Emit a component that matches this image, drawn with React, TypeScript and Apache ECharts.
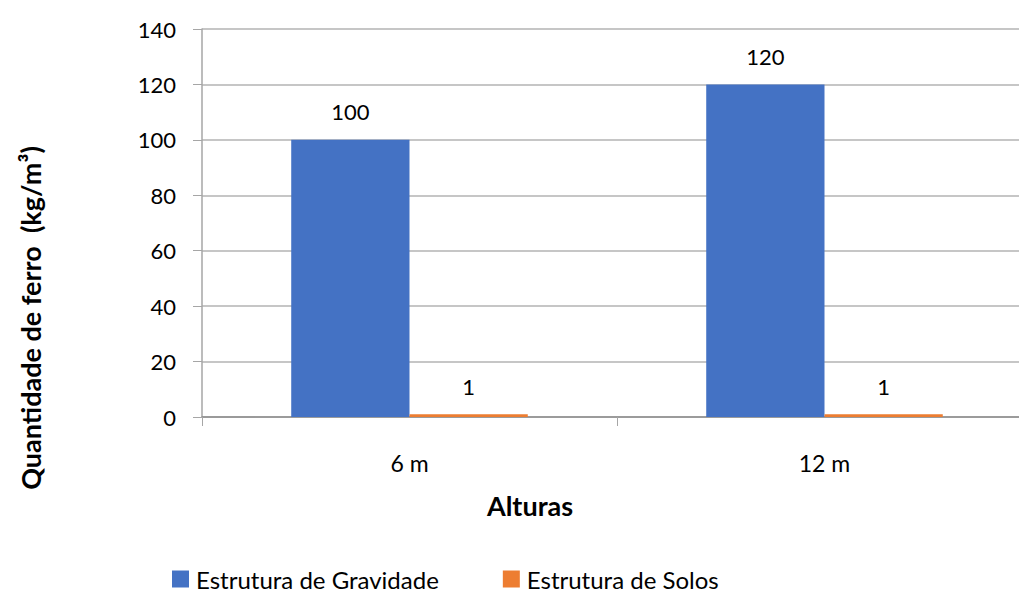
import React, { useEffect, useRef } from "react";
import * as echarts from "echarts";

const categories = ["6 m", "12 m"];
const gravidade = [100, 120];
const solos = [1, 1];
const seriesNames = ["Estrutura de Gravidade", "Estrutura de Solos"];
const yTitle = "Quantidade de ferro  (kg/m³)";
const xTitle = "Alturas";

const FONT = "Lato, 'Open Sans', sans-serif";

export default function App() {
  const ref = useRef<HTMLDivElement>(null);
  useEffect(() => {
    if (!ref.current) return;
    const chart = echarts.init(ref.current, null, { renderer: "svg" });
    const labelStyle = {
      show: true,
      position: "top" as const,
      distance: 17,
      fontSize: 22,
      color: "#000",
      fontFamily: FONT,
    };
    chart.setOption({
      animation: false,
      textStyle: { fontFamily: FONT },
      grid: { left: 202, right: 8, top: 29, bottom: 175, containLabel: false },
      legend: {
        top: 567,
        left: 172,
        padding: 0,
        itemWidth: 17,
        itemHeight: 17,
        itemGap: 64,
        icon: "rect",
        textStyle: { fontSize: 24, color: "#000", fontFamily: FONT, padding: [0, 0, 0, 2] },
        data: seriesNames,
      },
      xAxis: {
        type: "category",
        data: categories,
        axisLine: { lineStyle: { color: "#8c8c8c", width: 1.5 } },
        axisTick: { show: true, length: 9, lineStyle: { color: "#a6a6a6" } },
        axisLabel: { fontSize: 23, color: "#000", margin: 34, fontFamily: FONT },
      },
      yAxis: {
        type: "value",
        min: 0,
        max: 140,
        interval: 20,
        axisLine: { show: true, lineStyle: { color: "#a6a6a6", width: 1.5 } },
        axisTick: { show: true, length: 9, lineStyle: { color: "#a6a6a6" } },
        splitLine: { lineStyle: { color: "#b3b3b3", width: 1.5 } },
        axisLabel: { fontSize: 22, color: "#000", margin: 26, fontFamily: FONT },
      },
      series: [
        {
          name: seriesNames[0],
          type: "bar",
          data: gravidade,
          itemStyle: { color: "#4472C4" },
          barGap: "0%",
          barCategoryGap: "43%",
          label: labelStyle,
        },
        {
          name: seriesNames[1],
          type: "bar",
          data: solos,
          itemStyle: { color: "#ED7D31" },
          label: labelStyle,
        },
      ],
      graphic: [
        {
          type: "text",
          x: 30,
          y: 318,
          rotation: Math.PI / 2,
          style: {
            text: yTitle,
            fontSize: 27,
            fontWeight: "bold",
            fill: "#000",
            fontFamily: FONT,
            align: "center",
            verticalAlign: "middle",
          },
        },
        {
          type: "text",
          x: 530,
          y: 505,
          style: {
            text: xTitle,
            fontSize: 27,
            fontWeight: "bold",
            fill: "#000",
            fontFamily: FONT,
            align: "center",
            verticalAlign: "middle",
          },
        },
      ],
    });
    return () => chart.dispose();
  }, []);
  return (
    <div style={{ position: "fixed", left: 0, top: 0, width: 1019, height: 592, overflow: "hidden", background: "#fff" }}>
      <div ref={ref} style={{ width: 1040, height: 592 }} />
    </div>
  );
}
